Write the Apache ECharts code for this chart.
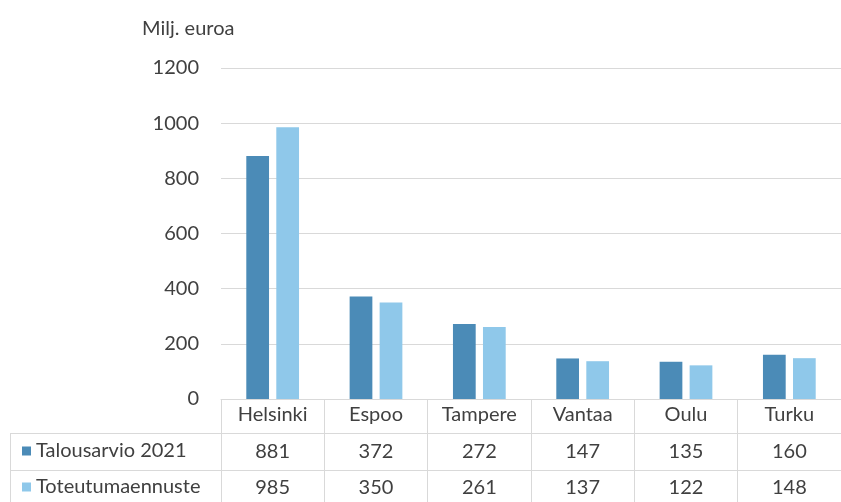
<!DOCTYPE html>
<html>
<head>
<meta charset="utf-8">
<script src="https://cdn.jsdelivr.net/npm/echarts@6/dist/echarts.min.js"></script>
<style>
html,body{margin:0;padding:0;background:#fff;}
#c{width:841px;height:502px;}
</style>
</head>
<body>
<div id="c"></div>
<script>
const categories = ['Helsinki', 'Espoo', 'Tampere', 'Vantaa', 'Oulu', 'Turku'];
const talousarvio = [881, 372, 272, 147, 135, 160];
const toteutuma = [985, 350, 261, 137, 122, 148];
const seriesNames = ['Talousarvio 2021', 'Toteutumaennuste'];
const yTicks = { min: 0, max: 1200, interval: 200 };
const unitLabel = 'Milj. euroa';

const FONT = 'Lato';
const TXT = '#404040';
const LINE = '#d9d9d9';
const colors = ['#4b8bb7', '#8fc8ea'];

const chart = echarts.init(document.getElementById('c'), null, { renderer: 'canvas' });
chart.setOption({
  animation: false,
  textStyle: { fontFamily: FONT },
  title: {
    text: unitLabel, left: 137, top: 14,
    textStyle: { fontFamily: FONT, fontSize: 20, fontWeight: 'normal', color: TXT }
  },
  legend: {
    orient: 'vertical', left: 22, top: 441, padding: 0,
    itemWidth: 9, itemHeight: 9, itemGap: 16, icon: 'rect',
    data: seriesNames,
    textStyle: { fontFamily: FONT, fontSize: 20, lineHeight: 20, color: TXT }
  },
  grid: { left: 221, top: 68, width: 631, height: 331, containLabel: false },
  xAxis: [
    {
      type: 'category', data: categories, position: 'bottom',
      axisLine: { lineStyle: { color: LINE, width: 1 } },
      axisTick: { show: true, length: 105, interval: 0, lineStyle: { color: LINE } },
      axisLabel: { interval: 0, margin: 6, fontSize: 20, lineHeight: 20, color: TXT, fontFamily: FONT }
    },
    {
      type: 'category', data: talousarvio.map(String), position: 'bottom', offset: 34,
      axisLine: { lineStyle: { color: LINE, width: 1 } },
      axisTick: { show: false },
      axisLabel: { interval: 0, margin: 9, fontSize: 20, lineHeight: 20, color: TXT, fontFamily: FONT }
    },
    {
      type: 'category', data: toteutuma.map(String), position: 'bottom', offset: 71,
      axisLine: { lineStyle: { color: LINE, width: 1 } },
      axisTick: { show: false },
      axisLabel: { interval: 0, margin: 8, fontSize: 20, lineHeight: 20, color: TXT, fontFamily: FONT }
    }
  ],
  yAxis: {
    type: 'value', min: yTicks.min, max: yTicks.max, interval: yTicks.interval,
    axisLine: { show: false }, axisTick: { show: false },
    axisLabel: { margin: 22, fontSize: 20, color: TXT, fontFamily: FONT, formatter: v => String(v) },
    splitLine: { lineStyle: { color: LINE, width: 1 } }
  },
  series: [
    { name: seriesNames[0], type: 'bar', data: talousarvio, barWidth: '22%', barGap: '32%',
      itemStyle: { color: colors[0] } },
    { name: seriesNames[1], type: 'bar', data: toteutuma, barWidth: '22%', barGap: '32%',
      itemStyle: { color: colors[1] } }
  ],
  graphic: [
    { type: 'line', shape: { x1: 10, y1: 433.5, x2: 221, y2: 433.5 }, style: { stroke: LINE, lineWidth: 1 } },
    { type: 'line', shape: { x1: 10, y1: 470.5, x2: 221, y2: 470.5 }, style: { stroke: LINE, lineWidth: 1 } },
    { type: 'line', shape: { x1: 10.5, y1: 433, x2: 10.5, y2: 502 }, style: { stroke: LINE, lineWidth: 1 } }
  ]
});
</script>
</body>
</html>
